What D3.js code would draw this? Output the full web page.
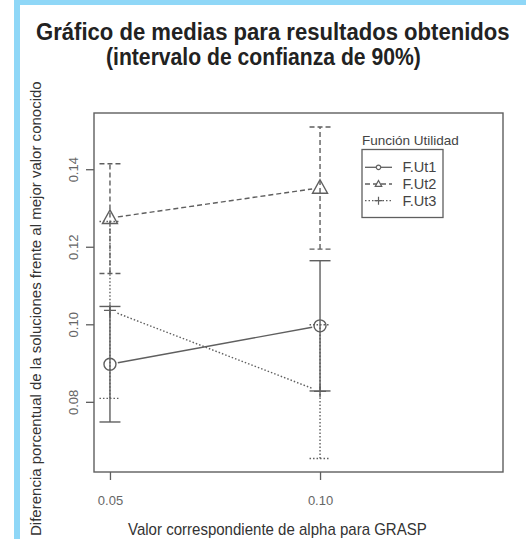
<!DOCTYPE html>
<html>
<head>
<meta charset="utf-8">
<script src="https://cdn.jsdelivr.net/npm/d3@7"></script>
<style>
  html, body { margin: 0; padding: 0; background: #fff; }
  svg { display: block; }
  text { font-family: "Liberation Sans Narrow", "Liberation Sans", Arial, sans-serif; }
</style>
</head>
<body>
<div id="chart"></div>
<script>
// valores
const alphaLabels = ["0.05", "0.10"];
const seriesNames = ["F.Ut1", "F.Ut2", "F.Ut3"];

const meanUt1 = [0.0897, 0.0996];
const lowUt1  = [0.0748, 0.0828];
const upUt1   = [0.1046, 0.1164];

const meanUt2 = [0.1274, 0.1352];
const lowUt2  = [0.1131, 0.1194];
const upUt2   = [0.1414, 0.1509];

const meanUt3 = [0.1036, 0.0827];
const lowUt3  = [0.0809, 0.0654];
const upUt3   = [0.1265, 0.0999];

const yTickValues = [0.08, 0.10, 0.12, 0.14];

(function() {
  const fullW = 526, fullH = 539;
  const box = { left: 94, right: 503, top: 113, bottom: 472 };
  const LINE = "#5f5f5f";
  const BLUE = "#8fd7f7";

  const styles = [
    { dash: null,    shape: "circle" },
    { dash: "5,3",   shape: "triangle" },
    { dash: "1.5,2", shape: "plus" }
  ];

  const series = seriesNames.map((name, k) => ({
    name,
    mean: [meanUt1, meanUt2, meanUt3][k],
    low:  [lowUt1, lowUt2, lowUt3][k],
    up:   [upUt1, upUt2, upUt3][k],
    style: styles[k]
  }));

  const svg = d3.select("#chart")
    .append("svg")
    .attr("width", fullW)
    .attr("height", fullH);

  // texto estrecho: se escala en horizontal hasta el ancho medido en la imagen
  function fitText(parent, str, width, size, pos, opts = {}) {
    const t = parent.append("text")
      .style("font-size", size + "px")
      .style("font-weight", opts.bold ? "bold" : "normal")
      .style("fill", opts.fill || "#333")
      .text(str);
    const natural = t.node().getComputedTextLength();
    const k = width / natural;
    t.attr("transform", `translate(${pos[0]},${pos[1]})${opts.rotate ? " rotate(-90)" : ""} scale(${k},1)`);
    return t;
  }

  // marco azul
  svg.append("rect").attr("x", 14).attr("y", 0).attr("width", fullW - 14).attr("height", 5).attr("fill", BLUE);
  svg.append("rect").attr("x", 14).attr("y", 0).attr("width", 6).attr("height", fullH).attr("fill", BLUE);

  // titulo
  fitText(svg, "Gráfico de medias para resultados obtenidos", 474, 24, [36, 40], { bold: true, fill: "#222" });
  fitText(svg, "(intervalo de confianza de 90%)", 315, 24, [106, 65], { bold: true, fill: "#222" });

  const x = d3.scaleLinear().domain([0.924, 2.871]).range([box.left, box.right]);
  const y = d3.scaleLinear().domain([0.0619, 0.1545]).range([box.bottom, box.top]);

  // ejes
  const xAxisG = svg.append("g")
    .attr("transform", `translate(0,${box.bottom})`)
    .call(d3.axisBottom(x).tickValues([1, 2]).tickFormat(d => alphaLabels[d - 1]).tickSize(8));
  xAxisG.select(".domain").remove();
  xAxisG.selectAll("line").attr("stroke", LINE).attr("stroke-width", 1.3);
  xAxisG.selectAll("text")
    .attr("y", 33).attr("dy", 0)
    .style("font-size", "13px").style("fill", "#666")
    .style("font-family", "'Liberation Sans', Arial, sans-serif");

  const yAxisG = svg.append("g")
    .attr("transform", `translate(${box.left},0)`)
    .call(d3.axisLeft(y).tickValues(yTickValues).tickFormat(d3.format(".2f")).tickSize(8));
  yAxisG.select(".domain").remove();
  yAxisG.selectAll("line").attr("stroke", LINE).attr("stroke-width", 1.3);
  yAxisG.selectAll("text")
    .attr("transform", "rotate(-90)")
    .attr("x", 0).attr("y", -16).attr("dy", 0)
    .attr("text-anchor", "middle")
    .style("font-size", "13px").style("fill", "#666")
    .style("font-family", "'Liberation Sans', Arial, sans-serif");

  svg.append("rect")
    .attr("x", box.left).attr("y", box.top)
    .attr("width", box.right - box.left).attr("height", box.bottom - box.top)
    .attr("fill", "none").attr("stroke", LINE).attr("stroke-width", 1.4);

  // titulos de ejes
  fitText(svg, "Valor correspondiente de alpha para GRASP", 299, 16, [128, 535]);
  fitText(svg, "Diferencia porcentual de la soluciones frente al mejor valor conocido", 455, 15, [40.5, 536], { rotate: true });

  const plot = svg.append("g");
  const capHalf = 10.5, gap = 8;

  function marker(sel, shape, size) {
    if (shape === "circle") {
      sel.append("circle").attr("r", size / 2);
    } else if (shape === "triangle") {
      const h = size * 0.9, w = size;
      sel.append("path").attr("d", `M0,${-h * 0.6}L${w / 2},${h * 0.4}L${-w / 2},${h * 0.4}Z`);
    } else {
      sel.append("path").attr("d", `M${-size / 2},0H${size / 2}M0,${-size / 2}V${size / 2}`);
    }
  }

  series.forEach(s => {
    const g = plot.append("g")
      .attr("stroke", LINE).attr("stroke-width", 1.4).attr("fill", "none")
      .attr("stroke-dasharray", s.style.dash);

    // barras de error
    s.mean.forEach((m, i) => {
      const cx = x(i + 1);
      g.append("line").attr("x1", cx).attr("x2", cx).attr("y1", y(s.low[i])).attr("y2", y(s.up[i]));
      [s.low[i], s.up[i]].forEach(v => {
        g.append("line").attr("x1", cx - capHalf).attr("x2", cx + capHalf).attr("y1", y(v)).attr("y2", y(v));
      });
    });

    // linea entre medias, cortada junto a los puntos
    const x0 = x(1), y0 = y(s.mean[0]), x1 = x(2), y1 = y(s.mean[1]);
    const len = Math.hypot(x1 - x0, y1 - y0);
    const ux = (x1 - x0) / len, uy = (y1 - y0) / len;
    g.append("line")
      .attr("x1", x0 + ux * gap).attr("y1", y0 + uy * gap)
      .attr("x2", x1 - ux * gap).attr("y2", y1 - uy * gap);

    s.mean.forEach((m, i) => {
      const mg = plot.append("g")
        .attr("transform", `translate(${x(i + 1)},${y(m)})`)
        .attr("stroke", LINE).attr("stroke-width", 1.4).attr("fill", "none");
      marker(mg, s.style.shape, s.style.shape === "triangle" ? 15 : 12);
    });
  });

  // leyenda
  const leg = svg.append("g");
  fitText(leg, "Función Utilidad", 97, 13, [362, 145], { fill: "#444" });
  leg.append("rect")
    .attr("x", 362).attr("y", 149.5).attr("width", 81).attr("height", 68)
    .attr("fill", "#fff").attr("stroke", LINE).attr("stroke-width", 1.3);

  const legY = d3.scalePoint().domain(seriesNames).range([167.3, 200.7]);
  series.forEach(s => {
    const row = leg.append("g").attr("transform", `translate(0,${legY(s.name)})`);
    row.append("line")
      .attr("x1", 365).attr("x2", 392).attr("y1", 0).attr("y2", 0)
      .attr("stroke", LINE).attr("stroke-width", 1.3)
      .attr("stroke-dasharray", s.style.dash);
    const mg = row.append("g")
      .attr("transform", "translate(378.5,0)")
      .attr("stroke", LINE).attr("stroke-width", 1.2).attr("fill", "#fff");
    marker(mg, s.style.shape, s.style.shape === "triangle" ? 6.5 : s.style.shape === "plus" ? 8 : 4.5);
    fitText(row, s.name, 34, 14, [402.5, 5], { fill: "#444" });
  });
})();
</script>
</body>
</html>
